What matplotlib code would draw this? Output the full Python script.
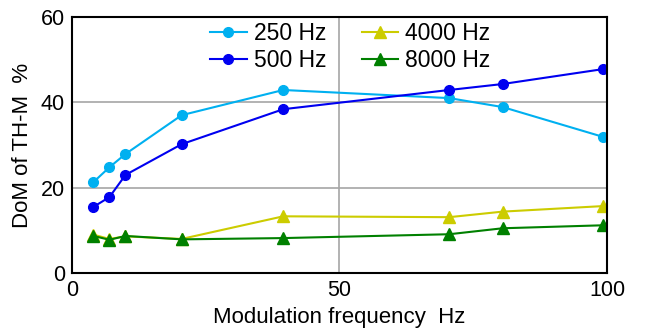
import matplotlib
matplotlib.use("Agg")
import matplotlib.pyplot as plt

plt.rcParams['font.family'] = ['Liberation Sans', 'DejaVu Sans']

freq = [4, 7, 10, 20.5, 39.5, 70.5, 80.5, 99.3]
s250 = [21.3, 24.8, 27.9, 37.0, 42.9, 41.0, 38.9, 31.9]
s500 = [15.5, 17.8, 23.0, 30.2, 38.4, 42.9, 44.3, 47.8]
s4000 = [9.0, 8.0, 8.6, 8.0, 13.3, 13.1, 14.4, 15.7]
s8000 = [8.7, 7.8, 8.7, 7.9, 8.2, 9.1, 10.5, 11.2]
labels = ['250 Hz', '500 Hz', '4000 Hz', '8000 Hz']
xticks = [0, 50, 100]
yticks = [0, 20, 40, 60]

fig = plt.figure(figsize=(6.45, 3.31), dpi=100)
ax = fig.add_axes([0.1116, 0.175, 0.8295, 0.7736])

ax.plot(freq, s250, '-o', color='#00B0F0', lw=1.5, ms=7, label=labels[0])
ax.plot(freq, s500, '-o', color='#0000F0', lw=1.5, ms=7, label=labels[1])
ax.plot(freq, s4000, '-^', color='#CCCC00', lw=1.5, ms=8, label=labels[2])
ax.plot(freq, s8000, '-^', color='#008000', lw=1.5, ms=8, label=labels[3])

ax.set_xlim(0, 100)
ax.set_ylim(0, 60)
ax.set_xticks(xticks)
ax.set_yticks(yticks)
ax.tick_params(axis='x', length=0, labelsize=15.5, pad=5)
ax.tick_params(axis='y', length=0, labelsize=15.5, pad=5)
ax.grid(True, color='#A6A6A6', lw=1.2)
ax.set_axisbelow(True)
for s in ax.spines.values():
    s.set_color('black')
    s.set_linewidth(1.5)

ax.set_xlabel('Modulation frequency  Hz', fontsize=16, labelpad=4)
ax.set_ylabel('DoM of TH-M  %', fontsize=16, labelpad=6)

ax.legend(ncol=2, loc='upper left', bbox_to_anchor=(0.241, 1.016), frameon=False,
          fontsize=16.5, handlelength=1.6, columnspacing=1.55, handletextpad=0.3,
          labelspacing=0.18, borderaxespad=0)

fig.savefig('out.png', dpi=100)
